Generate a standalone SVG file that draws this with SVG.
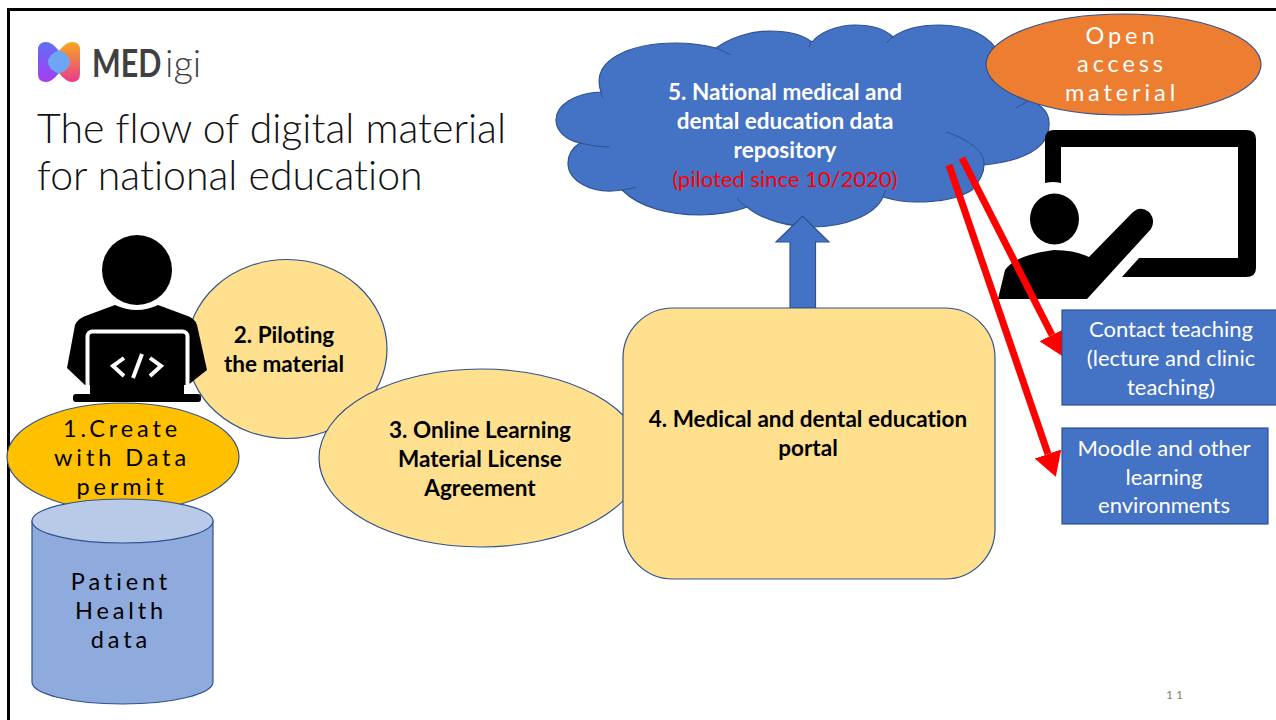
<svg xmlns="http://www.w3.org/2000/svg" width="1276" height="720" viewBox="0 0 1276 720">
<style>
text{font-family:Lato,"Open Sans",sans-serif;text-anchor:middle;font-size:22px;font-variant-ligatures:none}
.b{font-weight:700;fill:#000;font-size:22.500px}
.w{fill:#fff}
.bw{font-weight:700;fill:#fff;font-size:22.500px}
.sp{letter-spacing:3.900px;font-size:23.500px}
.yel{fill:#FFE08F;stroke:#2F528F;stroke-width:1.2}
.blu{fill:#4472C4;stroke:#2F528F;stroke-width:1.2}
.inner{fill:none;stroke:#2F528F;stroke-width:1}
.red{stroke:#f00;stroke-width:7;fill:none;marker-end:url(#rh)}
.logo{text-anchor:start;font-size:38px;fill:#404040}
</style>
<defs>
<marker id="rh" markerUnits="userSpaceOnUse" markerWidth="26" markerHeight="30" refX="0" refY="14" orient="auto" viewBox="0 0 26 28"><path d="M0 0L24 14L0 28Z" fill="#f00"/></marker>
<linearGradient id="lg1" x1="0" y1="0" x2="0" y2="1"><stop offset="0" stop-color="#5f6ff5"/><stop offset="1" stop-color="#a63df0"/></linearGradient>
<linearGradient id="lg2" x1="0" y1="0" x2="0" y2="1"><stop offset="0" stop-color="#f7a81e"/><stop offset="1" stop-color="#ea3a8e"/></linearGradient>
</defs>
<rect width="1276" height="720" fill="#fff"/>
<path id="frame" d="M1276 9.500H8.500V720" fill="none" stroke="#000" stroke-width="3"/>

<g id="logo">
<path d="M38 50Q38 42 46 42Q52 42 59 51L59 73Q52 82 46 82Q38 82 38 74Z" fill="url(#lg1)"/>
<path d="M80 50Q80 42 72 42Q66 42 59 51L59 73Q66 82 72 82Q80 82 80 74Z" fill="url(#lg2)"/>
<path d="M59 50Q70 55 70 62Q70 69 59 74Q48 69 48 62Q48 55 59 50Z" fill="#6ea6f5"/>
<text class="logo" transform="translate(92 77) scale(.8 1)" font-weight="700">MED</text>
<text class="logo" x="165" y="77" font-weight="300">igi</text>
</g>
<g id="title">
<text x="37" y="143" style="text-anchor:start;font-size:41px;font-weight:300;fill:#111">The flow of digital material</text>
<text x="37" y="190" style="text-anchor:start;font-size:41px;font-weight:300;fill:#111">for national education</text>
</g>

<g id="node-2"><ellipse class="yel" cx="287" cy="349" rx="100" ry="89.500"/>
<text class="b" x="284" y="343">2. Piloting</text><text class="b" x="284" y="372">the material</text></g>

<g id="node-3"><ellipse class="yel" cx="481" cy="458" rx="162" ry="89"/>
<text class="b" x="480" y="438">3. Online Learning</text><text class="b" x="480" y="467">Material License</text><text class="b" x="480" y="496">Agreement</text></g>

<g id="coder-icon">
<circle cx="137" cy="270" r="35"/>
<path d="M67 368L75 325Q78 318 88 315L115 305Q137 315 158 305L185 315Q195 318 197 325L207 370L188 385L85 385Z"/>
<rect x="87.500" y="331.500" width="100" height="70" rx="5" fill="none" stroke="#fff" stroke-width="4"/>
<rect x="90" y="335" width="94" height="62"/>
<rect x="73" y="394" width="128" height="8" rx="3"/>
<path d="M124 358L113 366L124 376M150 358L161 366L150 376" fill="none" stroke="#fff" stroke-width="4"/>
<path d="M142 354L133 378" fill="none" stroke="#fff" stroke-width="4"/>
</g>

<g id="node-1"><ellipse cx="123" cy="457" rx="116" ry="54" fill="#FFC000" stroke="#2F528F" stroke-width="1.200"/>
<text class="sp" x="122" y="437" fill="#000">1.Create</text><text class="sp" x="122" y="466" fill="#000">with Data</text><text class="sp" x="122" y="495" fill="#000">permit</text></g>

<g id="node-data">
<path d="M32 521V682C32 694 72 704 122.500 704C173 704 213 694 213 682V521Z" fill="#8FAADC" stroke="#2F528F" stroke-width="1.200"/>
<ellipse cx="122.500" cy="521" rx="90.500" ry="22" fill="#B9CAE9" stroke="#2F528F" stroke-width="1.200"/>
<text class="sp" x="121" y="590" fill="#000">Patient</text><text class="sp" x="121" y="619" fill="#000">Health</text><text class="sp" x="121" y="648" fill="#000">data</text>
</g>

<g id="node-5">
<path class="blu" d="M601 92C590 60 630 43 676 43C695 43 708 46 716 48C730 38 750 31 770 31C790 31 803 35 812 42C820 32 838 25 855 25C872 25 885 29 893 37C905 28 922 25 939 25C968 25 990 35 1000 55L1030 100C1044 106 1049 115 1049 123C1050 145 1030 160 984 165C984 175 978 183 972 190C960 198 940 202 916 202C905 202 893 200 883 197C875 215 845 227 812 227C790 227 762 220 747 207C735 212 715 215 700 215C670 215 640 208 622 190C590 195 568 180 568 163C568 155 572 148 580 143C565 140 556 130 556 120C556 105 575 93 601 92Z"/>
<path class="inner" d="M716 48Q724 51 731 55M810 42Q811 44 809 47M887 43Q889 39 893 37M1016 108L1030 100M946 132C970 140 985 152 984 165M883 197Q884 193 886 190M737 198Q740 203 747 207M622 190Q630 189 636 187M580 143Q595 147 610 147M601 92Q601 95 603 98"/>
<text class="bw" x="785" y="100">5. National medical and</text><text class="bw" x="785" y="129">dental education data</text><text class="bw" x="785" y="158">repository</text>
<text x="785" y="187" fill="#f00">(piloted since 10/2020)</text>
</g>

<g id="node-open"><ellipse cx="1123.500" cy="64.500" rx="137.500" ry="50.500" fill="#ED7D31" stroke="#2F528F" stroke-width="1.200"/>
<text class="w sp" x="1122" y="44">Open</text><text class="w sp" x="1122" y="72">access</text><text class="w sp" x="1122" y="101">material</text></g>

<g id="teacher-icon">
<path d="M1045 183V139Q1045 130 1054 130H1246Q1256 130 1256 139V268Q1256 277 1246 277H1122L1139 258H1238V147H1061V183Q1053 181 1045 183Z"/>
<ellipse cx="1054.500" cy="219" rx="24.500" ry="25.500"/>
<path d="M998 299L1005 270Q1015 255 1054 250Q1075 250 1089 257L1132 213Q1140 205 1149 212Q1156 220 1151 229L1087 299Z"/>
</g>

<g id="connectors">
<path class="blu" d="M790 308V242H776L802.500 216L829 242H815.500V308Z"/>
<path class="red" d="M962 158L1052 335"/>
<path class="red" d="M949 165L1048 454"/>
</g>

<g id="node-4"><rect class="yel" x="623" y="308" width="372" height="271" rx="50"/>
<text class="b" x="808" y="427">4. Medical and dental education</text><text class="b" x="808" y="456">portal</text></g>

<g id="node-contact"><rect class="blu" x="1062" y="310" width="216" height="95"/>
<text class="w" x="1171" y="337">Contact teaching</text><text class="w" x="1171" y="366">(lecture and clinic</text><text class="w" x="1171" y="395">teaching)</text></g>

<g id="node-moodle"><rect class="blu" x="1062" y="428" width="206" height="96"/>
<text class="w" x="1164" y="456">Moodle and other</text><text class="w" x="1164" y="485">learning</text><text class="w" x="1164" y="513">environments</text></g>

<text id="page" x="1176" y="699" style="font-size:12px;letter-spacing:3px;fill:#7f7f7f">11</text>
</svg>
